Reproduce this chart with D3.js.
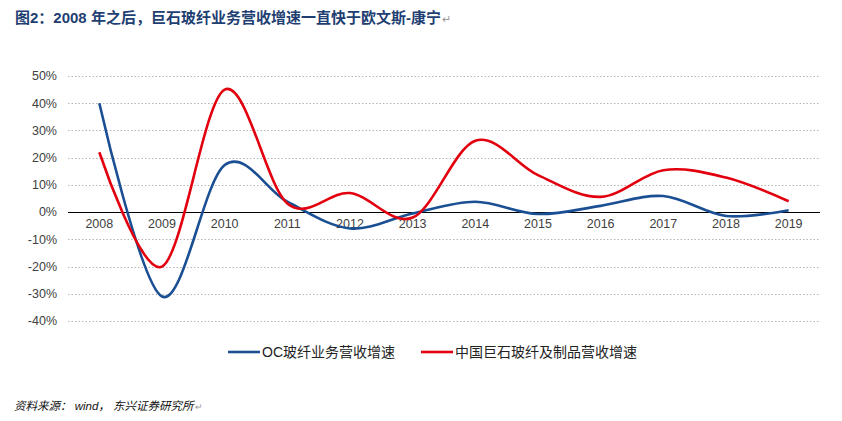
<!DOCTYPE html>
<html>
<head>
<meta charset="utf-8">
<script src="https://cdn.jsdelivr.net/npm/d3@7"></script>
<style>
  html, body { margin: 0; padding: 0; background: #fff; }
  svg { display: block; font-family: "Liberation Sans", Arial, "Noto Sans CJK SC", sans-serif; }
</style>
</head>
<body>
<div id="chart"></div>
<script>
const years = ['2008', '2009', '2010', '2011', '2012', '2013', '2014', '2015', '2016', '2017', '2018', '2019'];
const ocGrowth = [40, -31, 17.3, 3.8, -6, -0.5, 3.8, -0.7, 2.3, 5.9, -1.4, 0.7];
const jushiGrowth = [22, -20, 45, 3.2, 7, -2, 26.2, 13.6, 5.6, 15.4, 12.7, 4];
const yTicks = [50, 40, 30, 20, 10, 0, -10, -20, -30, -40];
const seriesNames = ['OC玻纤业务营收增速', '中国巨石玻纤及制品营收增速'];
const seriesColors = ['#1B4F93', '#E2000F'];

const width = 842, height = 421;
const svg = d3.select('#chart').append('svg')
    .attr('width', width)
    .attr('height', height);

// title, with the paragraph mark right after it
const title = svg.append('text')
    .attr('x', 15)
    .attr('y', 23)
    .attr('fill', '#1F3F73')
    .style('font-size', '15px')
    .style('font-weight', 'bold')
    .text('图2：2008 年之后，巨石玻纤业务营收增速一直快于欧文斯-康宁');
const titleEnd = 15 + title.node().getComputedTextLength();
svg.append('text')
    .attr('x', titleEnd + 1)
    .attr('y', 23)
    .attr('fill', '#999')
    .style('font-size', '11px')
    .text('↵');

const x = d3.scaleBand().domain(years).range([68, 820]);
const y = d3.scaleLinear().domain([-40, 50]).range([321, 76]);

// gridlines
svg.append('g')
    .selectAll('line')
    .data(yTicks.filter(d => d !== 0))
    .enter()
    .append('line')
    .attr('x1', 68)
    .attr('x2', 820)
    .attr('y1', d => Math.round(y(d)) + 0.5)
    .attr('y2', d => Math.round(y(d)) + 0.5)
    .attr('stroke', '#b5b5b5')
    .attr('stroke-width', 1)
    .attr('stroke-dasharray', '1.5,2');

// y labels
svg.append('g')
    .selectAll('text')
    .data(yTicks)
    .enter()
    .append('text')
    .attr('x', 57)
    .attr('y', d => y(d))
    .attr('dy', '0.35em')
    .attr('text-anchor', 'end')
    .attr('fill', '#404040')
    .style('font-size', '12.5px')
    .text(d => d + '%');

// zero line
svg.append('line')
    .attr('x1', 68)
    .attr('x2', 820)
    .attr('y1', Math.round(y(0)) + 0.5)
    .attr('y2', Math.round(y(0)) + 0.5)
    .attr('stroke', '#000')
    .attr('stroke-width', 1.2);

// x labels
svg.append('g')
    .selectAll('text')
    .data(years)
    .enter()
    .append('text')
    .attr('x', d => x(d) + x.bandwidth() / 2)
    .attr('y', y(0) + 16)
    .attr('text-anchor', 'middle')
    .attr('fill', '#404040')
    .style('font-size', '12.5px')
    .text(d => d);

// lines
const line = d3.line()
    .x((d, i) => x(years[i]) + x.bandwidth() / 2)
    .y(d => y(d))
    .curve(d3.curveCardinal.tension(0));

[ocGrowth, jushiGrowth].forEach((vals, i) => {
    svg.append('path')
        .datum(vals)
        .attr('d', line)
        .attr('fill', 'none')
        .attr('stroke', seriesColors[i])
        .attr('stroke-width', 2.6)
        .attr('stroke-linejoin', 'round');
});

// legend
const legendX = [228, 421];
legendX.forEach((lx, i) => {
    svg.append('line')
        .attr('x1', lx)
        .attr('x2', lx + 32)
        .attr('y1', 352)
        .attr('y2', 352)
        .attr('stroke', seriesColors[i])
        .attr('stroke-width', 2.6);
    svg.append('text')
        .attr('x', lx + 34)
        .attr('y', 352)
        .attr('dy', '0.35em')
        .attr('fill', '#222')
        .style('font-size', '14px')
        .text(seriesNames[i]);
});

// source
const source = svg.append('text')
    .attr('x', 14)
    .attr('y', 410)
    .attr('fill', '#111')
    .style('font-size', '11.5px')
    .style('font-style', 'italic')
    .text('资料来源：  wind，  东兴证券研究所');
svg.append('text')
    .attr('x', 15 + source.node().getComputedTextLength())
    .attr('y', 410)
    .attr('fill', '#999')
    .style('font-size', '9px')
    .text('↵');
</script>
</body>
</html>
